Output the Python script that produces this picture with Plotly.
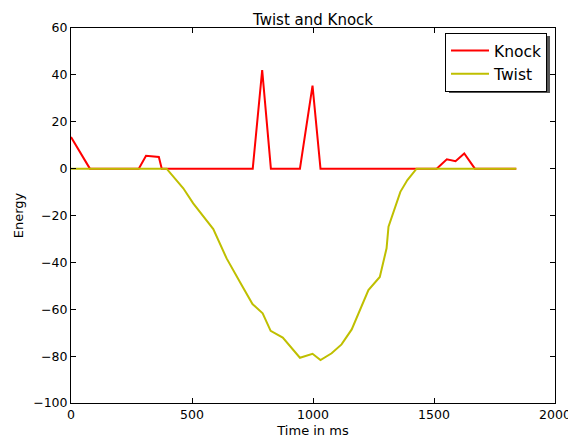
import plotly.graph_objects as go

knock_x = [0, 78, 280, 310, 363, 375, 751, 790, 826, 946, 998, 1031, 1511, 1553, 1589, 1625, 1669, 1840]
knock_y = [13.5, 0, 0, 5.5, 5.0, 0, 0, 42, 0, 0, 35.4, 0, 0, 4.0, 3.2, 6.5, 0, 0]

twist_x = [0, 395, 464, 505, 588, 643, 705, 750, 792, 825, 875, 946, 998, 1031, 1077, 1118, 1160,
           1229, 1276, 1304, 1312, 1361, 1390, 1428, 1840]
twist_y = [0, 0, -8.4, -14.8, -25.8, -38.3, -49.7, -57.8, -61.7, -69.2, -72.1, -80.7, -79.0, -81.7,
           -78.8, -75.0, -68.6, -51.8, -46.2, -34.0, -24.8, -9.9, -4.9, 0, 0]

x_ticks = [0, 500, 1000, 1500, 2000]
y_ticks = [-100, -80, -60, -40, -20, 0, 20, 40, 60]

font = "DejaVu Sans, sans-serif"

fig = go.Figure()
fig.add_trace(go.Scatter(x=knock_x, y=knock_y, mode="lines", name="Knock",
                         line=dict(color="#ff0000", width=2)))
fig.add_trace(go.Scatter(x=twist_x, y=twist_y, mode="lines", name="Twist",
                         line=dict(color="#bfbf00", width=2)))

axis_common = dict(showgrid=False, zeroline=False, showline=True, linecolor="black", linewidth=1,
                   mirror="ticks", ticks="inside", ticklen=5, tickcolor="black", automargin=False,
                   tickfont=dict(family=font, size=12.5, color="black"))

# page body has an 8px default margin, so the figure is sized 8px smaller
fig.update_layout(
    width=568, height=430,
    margin=dict(l=63, r=21, t=20, b=35, autoexpand=False),
    paper_bgcolor="white", plot_bgcolor="white",
    font=dict(family=font, color="black"),
    title=dict(text="Twist and Knock", x=0.5, xref="paper", xanchor="center",
               y=1, yref="paper", yanchor="bottom", pad=dict(b=3),
               font=dict(family=font, size=15, color="black")),
    xaxis=dict(range=[0, 2000], tickvals=x_ticks, ticktext=[str(v) for v in x_ticks],
               title=dict(text="Time in ms", font=dict(family=font, size=13), standoff=5),
               **axis_common),
    yaxis=dict(range=[-100, 60], tickvals=y_ticks, ticktext=["\u2212100", "\u221280", "\u221260", "\u221240", "\u221220", "0", "20", "40", "60"],
               title=dict(text="Energy", font=dict(family=font, size=13), standoff=6),
               **axis_common),
    legend=dict(x=0.9835, y=0.9867, xanchor="right", yanchor="top",
                bgcolor="white", bordercolor="black", borderwidth=1,
                font=dict(family=font, size=15.5, color="black"),
                itemwidth=38, tracegroupgap=0),
    showlegend=True,
)

fig.add_shape(type="rect", xref="paper", yref="paper",
              x0=0.781, x1=0.9897, y0=0.8267, y1=0.9787,
              fillcolor="#555555", line=dict(width=0), layer="above")

fig.write_html("out.html")
